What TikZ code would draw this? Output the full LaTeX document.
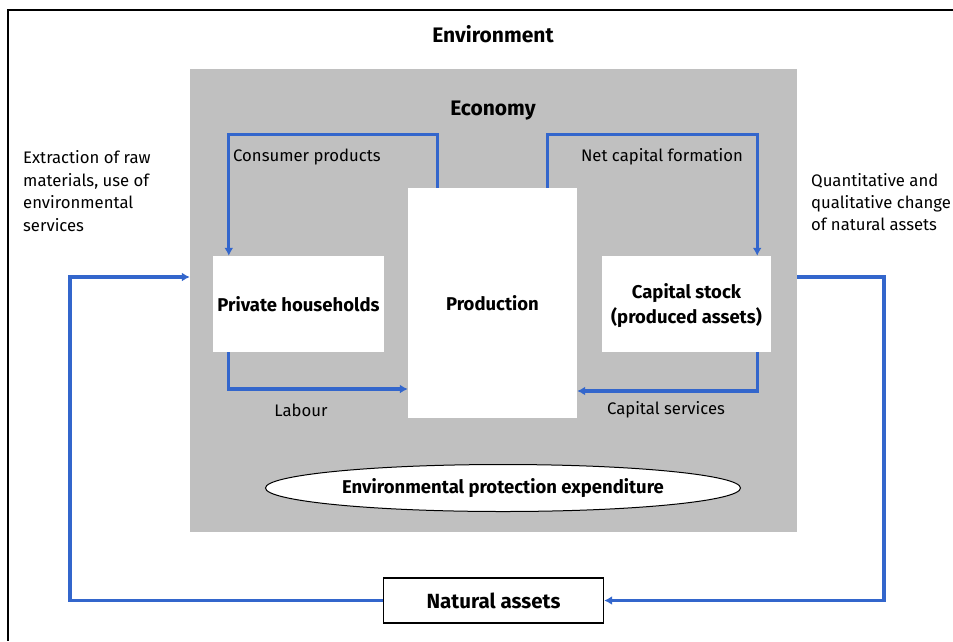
\documentclass[tikz,border=0pt]{standalone}
\usepackage{fontspec}
\setmainfont{Fira Sans}
\usetikzlibrary{arrows.meta,shapes.geometric,calc}
\definecolor{flowblue}{RGB}{51,102,204}
\definecolor{econgray}{RGB}{192,192,192}
\begin{document}
\begin{tikzpicture}[x=1pt,y=-1pt,
  flow/.style={draw=flowblue,line width=3.1pt,-{Latex[length=8pt,width=9pt]}},
  whitebox/.style={draw=none,fill=white,inner sep=0pt,align=center,font=\fontsize{18.5}{25}\selectfont\bfseries},
  lbl/.style={inner sep=0pt,align=left,font=\fontsize{16.7}{22.4}\selectfont},
  title/.style={inner sep=0pt,anchor=base,font=\fontsize{21}{25}\selectfont\bfseries}]
\useasboundingbox (0,0) rectangle (953,641);
\draw[line width=1.4pt] (953,10) -- (8,10) -- (8,641);
\node[title] (env) at (493,42) {Environment};
\node[fill=econgray,inner sep=0pt,minimum width=607pt,minimum height=463pt] (econ) at (493.5,300.5) {};
\node[title] (eco) at (493,115) {Economy};
\node[whitebox,minimum width=169pt,minimum height=230pt] (prod) at (492.5,303) {Production};
\node[whitebox,minimum width=171pt,minimum height=96pt] (hh) at (298.5,304) {Private households};
\node[whitebox,minimum width=169pt,minimum height=96pt] (cap) at (686.5,304) {\\[-6pt]Capital stock\\(produced assets)};
\node[ellipse,draw=black,line width=1pt,fill=white,inner sep=0pt,minimum width=475pt,minimum height=47pt,font=\fontsize{18.5}{22}\selectfont\bfseries] (epe) at (503,488) {Environmental protection expenditure};
\node[draw=black,line width=1.4pt,fill=white,inner sep=0pt,minimum width=220pt,minimum height=45pt,font=\fontsize{20.5}{24}\selectfont\bfseries] (na) at (493.5,600.5) {Natural assets};
% labels
\node[lbl,anchor=west] (lcp) at (233,157) {Consumer products};
\node[lbl] (lnc) at (662,157) {Net capital formation};
\node[lbl] (llab) at (301,410) {Labour};
\node[lbl] (lcs) at (666,410) {Capital services};
\node[lbl,anchor=west] (lext) at (23,191) {Extraction of raw\\materials, use of\\environmental\\services};
\node[lbl,anchor=west] (lqc) at (811,202) {Quantitative and\\qualitative change\\of natural assets};
% flows inside economy
\draw[flow] ([xshift=30pt]prod.north west) -- ++(0,-53) -| ([xshift=16pt]hh.north west);
\draw[flow] ([xshift=-30pt]prod.north east) -- ++(0,-53) -| ([xshift=-14pt]cap.north east);
\draw[flow] ([xshift=16pt]hh.south west) |- ([yshift=-86pt]prod.west);
\draw[flow] ([xshift=-14pt]cap.south east) |- ([yshift=-88pt]prod.east);
% outer loop
\coordinate (lc) at (70,277);
\coordinate (rc) at (884,277);
\draw[flow] (na.west) -| (lc) -- (lc -| econ.west);
\draw[flow] (rc -| econ.east) -- (rc) |- (na.east);
\end{tikzpicture}
\end{document}
